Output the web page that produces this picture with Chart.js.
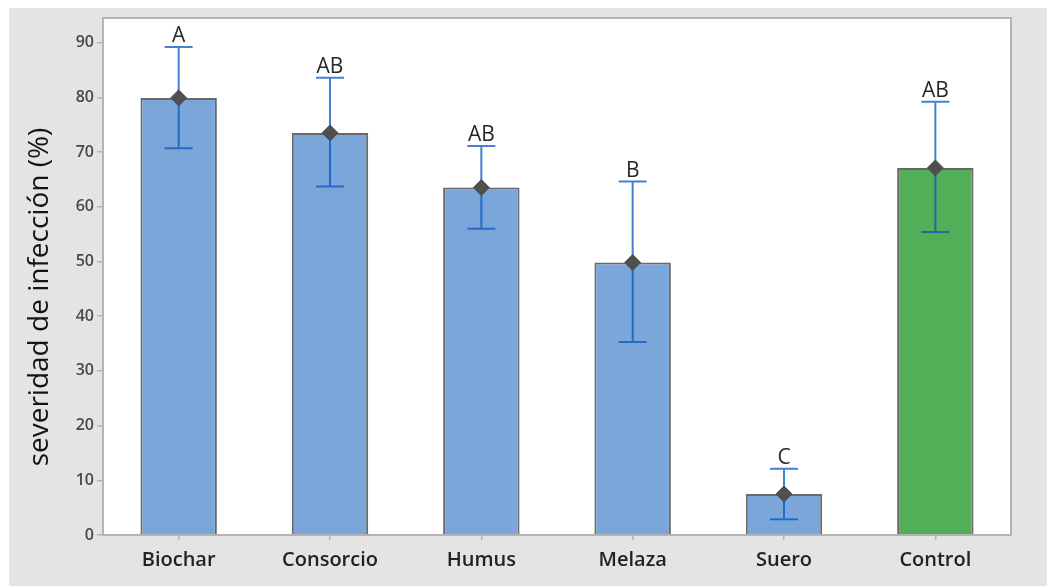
<!DOCTYPE html>
<html>
<head>
<meta charset="utf-8">
<script src="https://cdn.jsdelivr.net/npm/chart.js@4/dist/chart.umd.min.js"></script>
<style>
  html, body { margin: 0; padding: 0; background: #ffffff; }
  #wrap { width: 1047px; height: 586px; position: relative; }
</style>
</head>
<body>
<div id="wrap"><canvas id="chart" width="1047" height="586"></canvas></div>
<script>
// Treatments and their infection severity (mean with interval limits)
const categories = ['Biochar', 'Consorcio', 'Humus', 'Melaza', 'Suero', 'Control'];
const means      = [79.9, 73.5, 63.5, 49.8, 7.5, 67.1];
const upperLimit = [89.2, 83.6, 71.1, 64.6, 12.1, 79.2];
const lowerLimit = [70.7, 63.7, 56.0, 35.3, 2.9, 55.4];
const groupLetters = ['A', 'AB', 'AB', 'B', 'C', 'AB'];
const yTickValues = [0, 10, 20, 30, 40, 50, 60, 70, 80, 90];

const BLUE = '#7aa6d9';
const GREEN = '#52ae57';
const barColors = categories.map(c => c === 'Control' ? GREEN : BLUE);

Chart.defaults.font.family = "'Open Sans', 'DejaVu Sans', sans-serif";

// Page background: grey panel with white plot box
const backgroundPlugin = {
  id: 'panelBackground',
  beforeDraw(chart) {
    const { ctx, chartArea: a } = chart;
    ctx.save();
    ctx.fillStyle = '#ffffff';
    ctx.fillRect(0, 0, chart.width, chart.height);
    ctx.fillStyle = '#e4e4e4';
    ctx.fillRect(9, 8, chart.width - 9, chart.height - 8);
    ctx.fillStyle = '#ffffff';
    ctx.fillRect(a.left, a.top, a.right - a.left, a.bottom - a.top);
    ctx.restore();
  },
  afterDraw(chart) {
    const { ctx, chartArea: a } = chart;
    ctx.save();
    ctx.strokeStyle = '#b4b4b4';
    ctx.lineWidth = 2;
    ctx.strokeRect(a.left, a.top, a.right - a.left, a.bottom - a.top);
    // y-axis title
    ctx.translate(40, 297);
    ctx.rotate(-Math.PI / 2);
    ctx.fillStyle = '#141414';
    ctx.font = "500 28px 'Open Sans', sans-serif";
    ctx.textAlign = 'center';
    ctx.textBaseline = 'middle';
    ctx.fillText('severidad de infección (%)', 0, 0);
    ctx.restore();
  }
};

// Interval bars and group letters, placed through the chart scales
const intervalPlugin = {
  id: 'intervals',
  afterDatasetDraw(chart, args) {
    if (args.index !== 0) return;
    const { ctx, scales: { x, y } } = chart;
    ctx.save();
    ctx.strokeStyle = 'rgba(10, 85, 195, 0.75)';
    ctx.lineWidth = 2;
    const cap = 14;
    categories.forEach((c, i) => {
      const px = x.getPixelForValue(i);
      const yt = y.getPixelForValue(upperLimit[i]);
      const yb = y.getPixelForValue(lowerLimit[i]);
      ctx.beginPath();
      ctx.moveTo(px, yt); ctx.lineTo(px, yb);
      ctx.moveTo(px - cap, yt); ctx.lineTo(px + cap, yt);
      ctx.moveTo(px - cap, yb); ctx.lineTo(px + cap, yb);
      ctx.stroke();
    });
    ctx.fillStyle = '#262626';
    ctx.font = "500 21px 'Open Sans', sans-serif";
    ctx.textAlign = 'center';
    ctx.textBaseline = 'alphabetic';
    categories.forEach((c, i) => {
      const px = x.getPixelForValue(i);
      const yt = y.getPixelForValue(upperLimit[i]);
      ctx.fillText(groupLetters[i], px, yt - 5);
    });
    ctx.restore();
  }
};

new Chart(document.getElementById('chart'), {
  data: {
    labels: categories,
    datasets: [
      {
        type: 'bar',
        data: means,
        backgroundColor: barColors,
        borderColor: '#686868',
        borderWidth: 2,
        barPercentage: 0.505,
        categoryPercentage: 1,
        order: 2
      },
      {
        type: 'line',
        data: means,
        showLine: false,
        pointStyle: 'rectRot',
        pointRadius: 8,
        pointBackgroundColor: '#4f4f4f',
        pointBorderColor: '#4f4f4f',
        pointBorderWidth: 1,
        order: 1
      }
    ]
  },
  options: {
    responsive: false,
    animation: false,
    layout: { padding: { left: 0, top: 18, right: 36, bottom: 0 } },
    plugins: { legend: { display: false }, tooltip: { enabled: false } },
    scales: {
      x: {
        offset: true,
        grid: { drawOnChartArea: false, tickLength: 5, color: '#b4b4b4', lineWidth: 1.5, offset: false },
        border: { display: false },
        ticks: { color: '#222222', padding: 8, font: { size: 20, weight: '600' } },
        afterFit(scale) { scale.height = 51; }
      },
      y: {
        min: 0,
        max: 94.5,
        afterBuildTicks(scale) { scale.ticks = yTickValues.map(v => ({ value: v })); },
        grid: { drawOnChartArea: false, tickLength: 6, color: '#b4b4b4', lineWidth: 1.5 },
        border: { display: false },
        ticks: { color: '#474747', padding: 3, font: { size: 16, weight: '600' } },
        afterFit(scale) { scale.width = 103; }
      }
    }
  },
  plugins: [backgroundPlugin, intervalPlugin]
});
</script>
</body>
</html>
